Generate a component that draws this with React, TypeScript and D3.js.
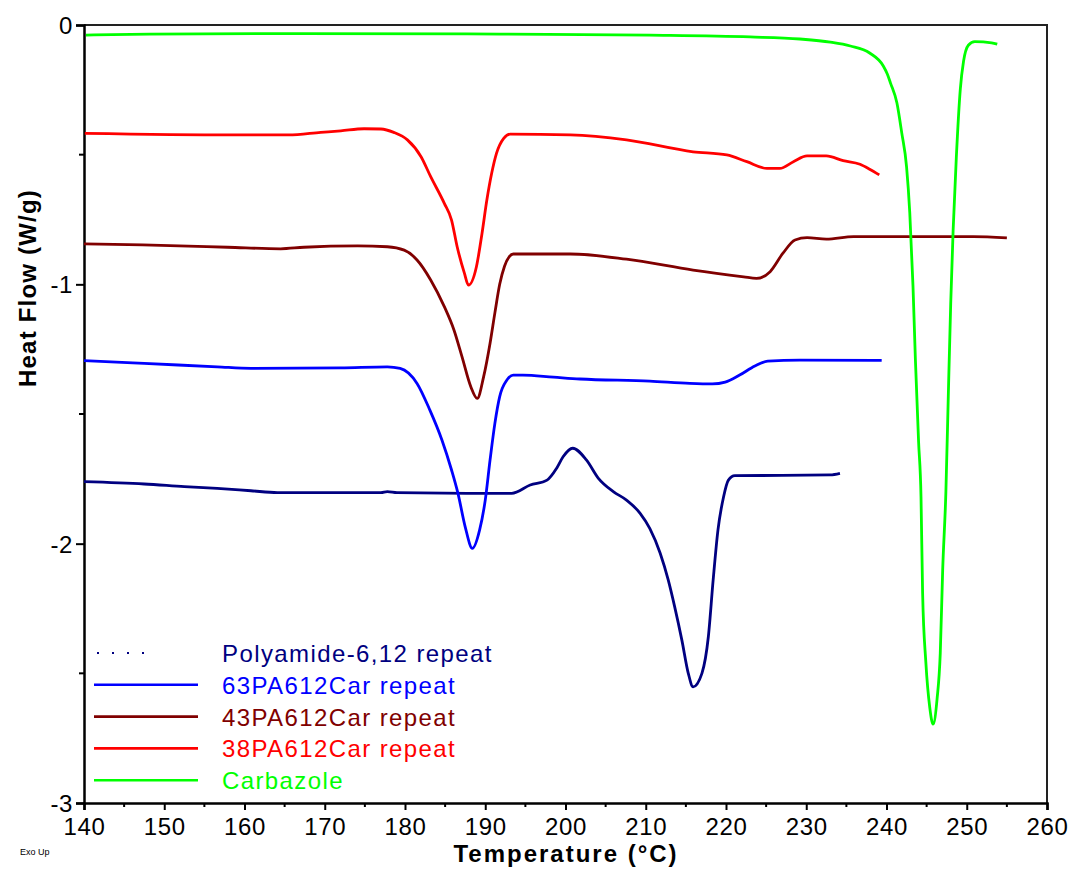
import React, { useEffect, useRef } from "react";
import * as d3 from "d3";

// DSC traces: [temperature (°C), heat flow (W/g)]
const polyamide612: [number, number][] = [
  [140.0, -1.761], [147.5, -1.770], [152.5, -1.780], [156.6, -1.787], [160.8, -1.796],
  [164.1, -1.803], [177.0, -1.803], [177.8, -1.799], [179.0, -1.803], [189.3, -1.806],
  [193.3, -1.806], [195.6, -1.774], [197.7, -1.755], [198.9, -1.709], [199.7, -1.665],
  [200.9, -1.632], [202.6, -1.677], [204.1, -1.748], [206.0, -1.800], [207.6, -1.832],
  [209.3, -1.883], [210.5, -1.941], [211.8, -2.037], [212.8, -2.140], [213.6, -2.243],
  [214.5, -2.372], [215.3, -2.500], [215.9, -2.552], [217.0, -2.500], [217.8, -2.359],
  [218.4, -2.140], [219.0, -1.947], [219.7, -1.819], [220.3, -1.755], [221.1, -1.738],
  [233.0, -1.735], [234.2, -1.729],
];

const pa63Car: [number, number][] = [
  [140.0, -1.294], [147.5, -1.305], [156.6, -1.318], [160.8, -1.324], [172.0, -1.322],
  [177.8, -1.318], [179.4, -1.324], [181.5, -1.382], [183.1, -1.485],
  [184.6, -1.600], [185.8, -1.716], [186.6, -1.806], [187.5, -1.935], [188.4, -2.018],
  [189.3, -1.947], [190.0, -1.832], [190.6, -1.677], [191.2, -1.536], [191.8, -1.433],
  [192.7, -1.369], [193.5, -1.350], [194.7, -1.350], [198.5, -1.358], [201.8, -1.365],
  [210.5, -1.373], [215.5, -1.382], [218.3, -1.384], [219.9, -1.377], [221.7, -1.350],
  [223.6, -1.315], [225.2, -1.296], [229.2, -1.292], [239.4, -1.293],
];

const pa43Car: [number, number][] = [
  [140.0, -0.844], [147.3, -0.848], [157.9, -0.857], [164.5, -0.863], [167.4, -0.857],
  [174.1, -0.852], [177.8, -0.855], [179.9, -0.868], [181.5, -0.906], [183.2, -0.983],
  [184.9, -1.086], [186.1, -1.176], [187.1, -1.279], [188.2, -1.395], [189.0, -1.440],
  [189.8, -1.356], [190.6, -1.227], [191.2, -1.110], [191.8, -1.000], [192.4, -0.930],
  [193.0, -0.893], [193.5, -0.883], [200.6, -0.883], [207.6, -0.903], [215.9, -0.945],
  [222.2, -0.971], [223.8, -0.977], [225.5, -0.951], [227.1, -0.880], [228.6, -0.829],
  [230.1, -0.820], [232.5, -0.826], [235.9, -0.816], [250.8, -0.816], [255.0, -0.821],
];

const pa38Car: [number, number][] = [
  [140.1, -0.418], [158.4, -0.424], [165.5, -0.424], [169.5, -0.414], [172.0, -0.408],
  [174.9, -0.400], [177.0, -0.401], [178.6, -0.414], [180.3, -0.443], [182.0, -0.508],
  [183.2, -0.585], [184.9, -0.688], [185.8, -0.752], [186.5, -0.855], [187.4, -0.957],
  [187.9, -1.003], [188.9, -0.932], [189.6, -0.803], [190.2, -0.675], [190.8, -0.572],
  [191.4, -0.495], [192.3, -0.437], [193.1, -0.421], [200.6, -0.424], [207.6, -0.443],
  [215.9, -0.489], [220.1, -0.501], [222.6, -0.527], [225.1, -0.553], [226.7, -0.553],
  [228.4, -0.527], [230.1, -0.505], [232.5, -0.505], [234.6, -0.523], [236.7, -0.537],
  [237.9, -0.556], [239.1, -0.578],
];

const carbazole: [number, number][] = [
  [140.25, -0.039], [148.2, -0.035], [166.9, -0.033], [191.8, -0.035], [210.5, -0.039],
  [223.0, -0.046], [229.2, -0.054], [233.0, -0.066], [235.5, -0.081], [237.9, -0.108],
  [239.6, -0.158], [240.1, -0.189], [240.5, -0.224], [241.3, -0.301], [241.9, -0.416],
  [242.5, -0.547], [242.9, -0.724], [243.3, -1.006], [243.6, -1.290], [244.0, -1.608],
  [244.3, -1.820], [244.5, -2.190], [244.9, -2.456], [245.4, -2.634], [245.8, -2.696],
  [246.3, -2.599], [246.7, -2.422], [247.0, -2.102], [247.4, -1.801], [247.7, -1.431],
  [248.0, -1.076], [248.3, -0.794], [248.7, -0.511], [249.2, -0.246], [249.6, -0.140],
  [250.2, -0.078], [251.0, -0.064], [253.1, -0.069], [253.8, -0.074],
];

const seriesNames = [
  "Polyamide-6,12 repeat",
  "63PA612Car repeat",
  "43PA612Car repeat",
  "38PA612Car repeat",
  "Carbazole",
];
const seriesColors = ["#000080", "#0000ff", "#800000", "#ff0000", "#00ff00"];
const seriesData = [polyamide612, pa63Car, pa43Car, pa38Car, carbazole];

const xTicks = d3.range(140, 261, 10);
const yTicks = [0, -1, -2, -3];

const W = 1073;
const H = 872;
const font = "'Liberation Sans', Arial, sans-serif";

function DscChart() {
  const ref = useRef<SVGSVGElement>(null);

  useEffect(() => {
    const svg = d3.select(ref.current);
    svg.selectAll("*").remove();

    const x = d3.scaleLinear().domain([140, 260]).range([84, 1047]);
    const y = d3.scaleLinear().domain([-3, 0]).range([803, 25]);

    // frame (top & right)
    svg.append("path")
      .attr("d", `M${x(140)},${y(0)}H${x(260)}V${y(-3)}`)
      .attr("fill", "none")
      .attr("stroke", "#222")
      .attr("stroke-width", 2);

    // x axis
    const xAxis = svg.append("g").attr("transform", `translate(0,${y(-3)})`);
    xAxis.call(
      d3.axisBottom(x).tickValues(xTicks).tickSize(7).tickPadding(7)
        .tickFormat(d => String(d))
    );
    xAxis.append("g").selectAll("line")
      .data(d3.range(145, 260, 10))
      .join("line")
      .attr("x1", d => x(d)).attr("x2", d => x(d))
      .attr("y1", 0).attr("y2", 4)
      .attr("stroke", "#000").attr("stroke-width", 2);

    // y axis
    const yAxis = svg.append("g").attr("transform", `translate(${x(140)},0)`);
    yAxis.call(
      d3.axisLeft(y).tickValues(yTicks).tickSize(8).tickPadding(3)
        .tickFormat(d => (d === 0 ? "0" : "-" + Math.abs(+d)))
    );
    yAxis.append("g").selectAll("line")
      .data([-0.5, -1.5, -2.5])
      .join("line")
      .attr("y1", d => y(d)).attr("y2", d => y(d))
      .attr("x1", 0).attr("x2", -5)
      .attr("stroke", "#000").attr("stroke-width", 2);

    [xAxis, yAxis].forEach(g => {
      g.select(".domain").attr("stroke", "#000").attr("stroke-width", 2.5);
      g.selectAll(".tick line").attr("stroke", "#000").attr("stroke-width", 2);
      g.selectAll(".tick text")
        .attr("fill", "#000")
        .style("font-family", font)
        .style("font-size", "24px")
        .style("letter-spacing", "0.6px");
    });
    yAxis.selectAll(".tick text").attr("dy", "0.36em");
    xAxis.selectAll(".tick text").attr("dy", "0.73em");

    // traces
    const line = d3.line<[number, number]>()
      .x(d => x(d[0]))
      .y(d => y(d[1]))
      .curve(d3.curveMonotoneX);

    svg.append("g").selectAll("path")
      .data(seriesData)
      .join("path")
      .attr("d", d => line(d))
      .attr("fill", "none")
      .attr("stroke", (_, i) => seriesColors[i])
      .attr("stroke-width", 2.8)
      .attr("stroke-linejoin", "round");

    // legend
    const legend = svg.append("g");
    const rows = legend.selectAll("g")
      .data(seriesNames)
      .join("g")
      .attr("transform", (_, i) => `translate(0,${653 + i * 31.8})`);
    rows.append("line")
      .attr("x1", (_, i) => (i === 0 ? 97 : 94))
      .attr("x2", (_, i) => (i === 0 ? 146 : 198))
      .attr("y1", 0).attr("y2", 0)
      .attr("stroke", (_, i) => seriesColors[i])
      .attr("stroke-width", (_, i) => (i === 0 ? 2 : 2.6))
      .attr("stroke-dasharray", (_, i) => (i === 0 ? "2,13" : null));
    rows.append("text")
      .attr("x", 222)
      .attr("y", 9)
      .attr("fill", (_, i) => seriesColors[i])
      .style("font-family", font)
      .style("font-size", "24px")
      .style("letter-spacing", "1.4px")
      .text(d => d);

    // axis titles
    svg.append("text")
      .attr("x", 566).attr("y", 862)
      .attr("text-anchor", "middle")
      .style("font-family", font)
      .style("font-size", "24px")
      .style("font-weight", "bold")
      .style("letter-spacing", "2px")
      .text("Temperature (°C)");

    svg.append("text")
      .attr("transform", "translate(36,288) rotate(-90)")
      .attr("text-anchor", "middle")
      .style("font-family", font)
      .style("font-size", "24px")
      .style("font-weight", "bold")
      .style("letter-spacing", "1.2px")
      .text("Heat Flow (W/g)");

    svg.append("text")
      .attr("x", 20).attr("y", 855)
      .style("font-family", font)
      .style("font-size", "9px")
      .text("Exo Up");
  }, []);

  return (
    <svg
      ref={ref}
      width={W}
      height={H}
      style={{ position: "absolute", left: 0, top: 0, background: "#fff" }}
    />
  );
}

export default function App() {
  return <DscChart />;
}
